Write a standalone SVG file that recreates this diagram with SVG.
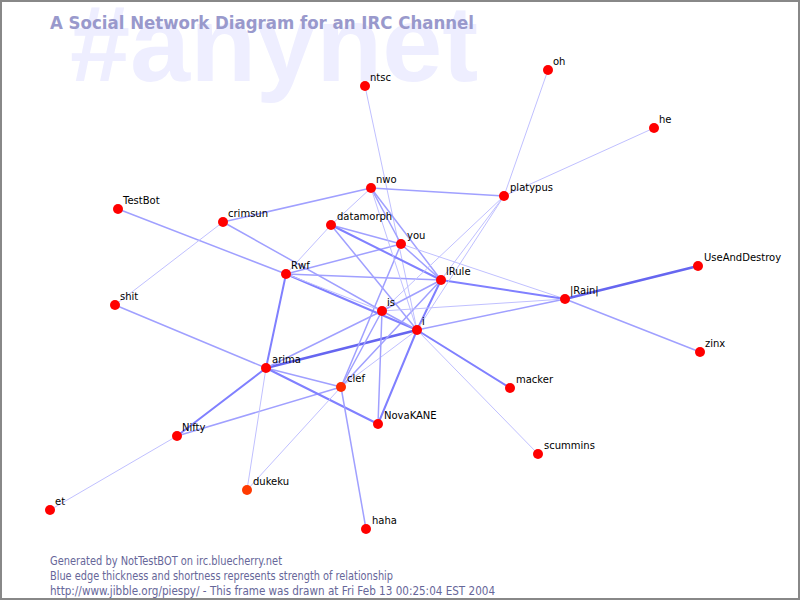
<svg xmlns="http://www.w3.org/2000/svg" width="800" height="600" viewBox="0 0 800 600">
<style>
.bg{fill:#ffffff;stroke:#888888;stroke-width:2}
.wm{font-family:"Liberation Sans",Arial,sans-serif;font-weight:bold;font-size:108px;fill:#eeeeff}
.title{font-family:"DejaVu Sans","Liberation Sans",sans-serif;font-weight:bold;font-size:17px;fill:#9999cc}
.foot{font-family:"DejaVu Sans","Liberation Sans",sans-serif;font-size:11.5px;fill:#666699}
.lbl{font-family:"DejaVu Sans","Liberation Sans",sans-serif;font-size:10px;fill:#000000}
.node{fill:#ff0000}
.node2{fill:#ff2a00}
.node3{fill:#ff3a00}
line{stroke-linecap:round}
.w1{stroke:#c0c0ff;stroke-width:1}
.w2{stroke:#a0a0ff;stroke-width:1.5}
.w3{stroke:#8080ff;stroke-width:2}
.w4{stroke:#6666f0;stroke-width:2.5}
</style>
<rect class="bg" x="1" y="1" width="798" height="598"/>
<text class="wm" x="70" y="81">#anynet</text>
<text class="title" x="50" y="29" textLength="424" lengthAdjust="spacingAndGlyphs">A Social Network Diagram for an IRC Channel</text>
<g id="connectors">
<line class="w1" x1="365" y1="86" x2="417" y2="330"/>
<line class="w1" x1="548" y1="70" x2="504" y2="196"/>
<line class="w1" x1="654" y1="128" x2="504" y2="196"/>
<line class="w2" x1="371" y1="188" x2="504" y2="196"/>
<line class="w2" x1="371" y1="188" x2="223" y2="222"/>
<line class="w2" x1="118" y1="209" x2="286" y2="274"/>
<line class="w1" x1="223" y1="222" x2="115" y2="305"/>
<line class="w2" x1="223" y1="222" x2="382" y2="311"/>
<line class="w2" x1="115" y1="305" x2="266" y2="368"/>
<line class="w3" x1="177" y1="436" x2="266" y2="368"/>
<line class="w2" x1="177" y1="436" x2="341" y2="387"/>
<line class="w1" x1="177" y1="436" x2="50" y2="510"/>
<line class="w3" x1="266" y1="368" x2="286" y2="274"/>
<line class="w4" x1="266" y1="368" x2="417" y2="330"/>
<line class="w2" x1="266" y1="368" x2="341" y2="387"/>
<line class="w3" x1="266" y1="368" x2="378" y2="424"/>
<line class="w1" x1="266" y1="368" x2="247" y2="490"/>
<line class="w2" x1="266" y1="368" x2="382" y2="311"/>
<line class="w1" x1="341" y1="387" x2="247" y2="490"/>
<line class="w2" x1="341" y1="387" x2="366" y2="529"/>
<line class="w2" x1="341" y1="387" x2="382" y2="311"/>
<line class="w2" x1="341" y1="387" x2="401" y2="244"/>
<line class="w2" x1="341" y1="387" x2="441" y2="280"/>
<line class="w1" x1="341" y1="387" x2="417" y2="330"/>
<line class="w1" x1="286" y1="274" x2="331" y2="225"/>
<line class="w2" x1="286" y1="274" x2="401" y2="244"/>
<line class="w2" x1="286" y1="274" x2="441" y2="280"/>
<line class="w3" x1="286" y1="274" x2="417" y2="330"/>
<line class="w1" x1="286" y1="274" x2="382" y2="311"/>
<line class="w1" x1="331" y1="225" x2="371" y2="188"/>
<line class="w2" x1="331" y1="225" x2="401" y2="244"/>
<line class="w3" x1="331" y1="225" x2="441" y2="280"/>
<line class="w2" x1="331" y1="225" x2="417" y2="330"/>
<line class="w2" x1="371" y1="188" x2="401" y2="244"/>
<line class="w2" x1="371" y1="188" x2="441" y2="280"/>
<line class="w1" x1="371" y1="188" x2="417" y2="330"/>
<line class="w2" x1="401" y1="244" x2="441" y2="280"/>
<line class="w1" x1="401" y1="244" x2="565" y2="299"/>
<line class="w3" x1="441" y1="280" x2="565" y2="299"/>
<line class="w2" x1="441" y1="280" x2="382" y2="311"/>
<line class="w3" x1="441" y1="280" x2="417" y2="330"/>
<line class="w1" x1="441" y1="280" x2="504" y2="196"/>
<line class="w4" x1="565" y1="299" x2="698" y2="266"/>
<line class="w2" x1="565" y1="299" x2="700" y2="352"/>
<line class="w2" x1="565" y1="299" x2="417" y2="330"/>
<line class="w1" x1="565" y1="299" x2="382" y2="311"/>
<line class="w1" x1="504" y1="196" x2="417" y2="330"/>
<line class="w1" x1="504" y1="196" x2="382" y2="311"/>
<line class="w2" x1="382" y1="311" x2="378" y2="424"/>
<line class="w2" x1="382" y1="311" x2="417" y2="330"/>
<line class="w3" x1="417" y1="330" x2="378" y2="424"/>
<line class="w3" x1="417" y1="330" x2="510" y2="388"/>
<line class="w1" x1="417" y1="330" x2="538" y2="454"/>
</g>
<g id="n-ntsc"><circle class="node" cx="365" cy="86" r="5"/><text class="lbl" x="370" y="81">ntsc</text></g>
<g id="n-oh"><circle class="node" cx="548" cy="70" r="5"/><text class="lbl" x="553" y="65">oh</text></g>
<g id="n-he"><circle class="node" cx="654" cy="128" r="5"/><text class="lbl" x="659" y="123">he</text></g>
<g id="n-nwo"><circle class="node" cx="371" cy="188" r="5"/><text class="lbl" x="376" y="183">nwo</text></g>
<g id="n-platypus"><circle class="node" cx="504" cy="196" r="5"/><text class="lbl" x="510" y="191">platypus</text></g>
<g id="n-TestBot"><circle class="node" cx="118" cy="209" r="5"/><text class="lbl" x="123" y="204">TestBot</text></g>
<g id="n-crimsun"><circle class="node" cx="223" cy="222" r="5"/><text class="lbl" x="228" y="217">crimsun</text></g>
<g id="n-datamorph"><circle class="node" cx="331" cy="225" r="5"/><text class="lbl" x="337" y="220">datamorph</text></g>
<g id="n-you"><circle class="node" cx="401" cy="244" r="5"/><text class="lbl" x="407" y="239">you</text></g>
<g id="n-Rwf"><circle class="node" cx="286" cy="274" r="5"/><text class="lbl" x="291" y="269">Rwf</text></g>
<g id="n-lRule"><circle class="node" cx="441" cy="280" r="5"/><text class="lbl" x="446" y="275">lRule</text></g>
<g id="n-Rain"><circle class="node" cx="565" cy="299" r="5"/><text class="lbl" x="570" y="294">|Rain|</text></g>
<g id="n-UseAndDestroy"><circle class="node" cx="698" cy="266" r="5"/><text class="lbl" x="704" y="261">UseAndDestroy</text></g>
<g id="n-shit"><circle class="node" cx="115" cy="305" r="5"/><text class="lbl" x="120" y="300">shit</text></g>
<g id="n-is"><circle class="node" cx="382" cy="311" r="5"/><text class="lbl" x="387" y="306">is</text></g>
<g id="n-i"><circle class="node" cx="417" cy="330" r="5"/><text class="lbl" x="422" y="325">i</text></g>
<g id="n-zinx"><circle class="node" cx="700" cy="352" r="5"/><text class="lbl" x="705" y="347">zinx</text></g>
<g id="n-arima"><circle class="node" cx="266" cy="368" r="5"/><text class="lbl" x="272" y="363">arima</text></g>
<g id="n-clef"><circle class="node2" cx="341" cy="387" r="5"/><text class="lbl" x="347" y="382">clef</text></g>
<g id="n-macker"><circle class="node" cx="510" cy="388" r="5"/><text class="lbl" x="516" y="383">macker</text></g>
<g id="n-NovaKANE"><circle class="node" cx="378" cy="424" r="5"/><text class="lbl" x="384" y="419">NovaKANE</text></g>
<g id="n-Nifty"><circle class="node" cx="177" cy="436" r="5"/><text class="lbl" x="182" y="431">Nifty</text></g>
<g id="n-scummins"><circle class="node" cx="538" cy="454" r="5"/><text class="lbl" x="544" y="449">scummins</text></g>
<g id="n-dukeku"><circle class="node3" cx="247" cy="490" r="5"/><text class="lbl" x="253" y="485">dukeku</text></g>
<g id="n-et"><circle class="node" cx="50" cy="510" r="5"/><text class="lbl" x="55" y="505">et</text></g>
<g id="n-haha"><circle class="node" cx="366" cy="529" r="5"/><text class="lbl" x="372" y="524">haha</text></g>
<text class="foot" x="50" y="565" textLength="232" lengthAdjust="spacingAndGlyphs">Generated by NotTestBOT on irc.bluecherry.net</text>
<text class="foot" x="50" y="580" textLength="343" lengthAdjust="spacingAndGlyphs">Blue edge thickness and shortness represents strength of relationship</text>
<text class="foot" x="50" y="595" textLength="445" lengthAdjust="spacingAndGlyphs">http://www.jibble.org/piespy/ - This frame was drawn at Fri Feb 13 00:25:04 EST 2004</text>
</svg>
